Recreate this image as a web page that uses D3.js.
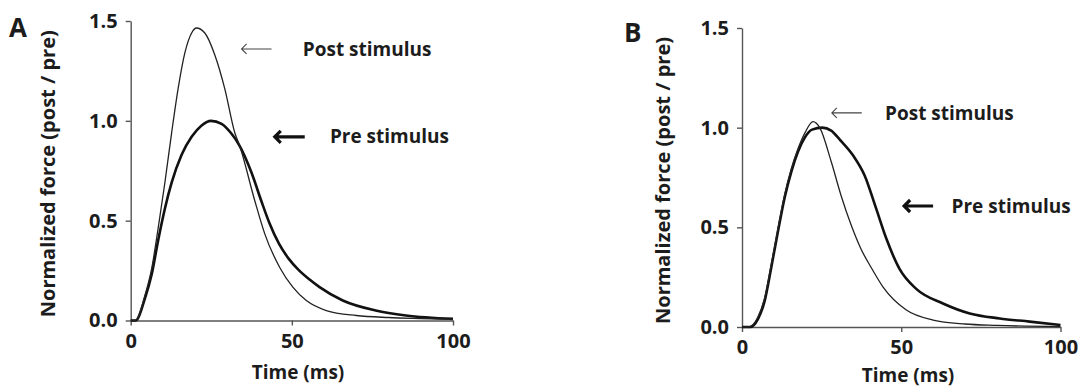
<!DOCTYPE html>
<html>
<head>
<meta charset="utf-8">
<script src="https://d3js.org/d3.v7.min.js"></script>
<style>
  body { margin: 0; background: #fff; }
  text { font-family: "Open Sans", sans-serif; fill: #1c1c1c; }
</style>
</head>
<body>
<div class="canvas"></div>
<script>
// values (time in ms, force normalized to pre)
var yTicks = [0, 0.5, 1.0, 1.5];
var xTicks = [0, 50, 100];

var postA_t = [0, 1.5, 4.4, 6.5, 8.5, 10.6, 12.7, 14.7, 16.8, 18.9, 20.4, 23, 26.1, 29.2, 32.3, 33.8, 38.5, 41.6, 46.2, 50.3, 54.5, 60.7, 70, 80, 90, 100];
var postA_v = [0, 0, 0.125, 0.26, 0.46, 0.69, 0.94, 1.16, 1.34, 1.44, 1.465, 1.44, 1.33, 1.16, 0.94, 0.875, 0.6, 0.434, 0.267, 0.167, 0.1, 0.05, 0.025, 0.015, 0.01, 0.006];

var preA_t = [0, 1.5, 4.4, 6.5, 8.5, 10.6, 12.7, 15.8, 18.9, 22, 24.9, 28.2, 31.3, 33.8, 37.5, 40.5, 43, 46, 49, 52, 55.5, 58.6, 65.8, 76, 85.4, 100];
var preA_v = [0, 0, 0.11, 0.23, 0.4, 0.56, 0.69, 0.83, 0.92, 0.977, 1.0, 0.985, 0.935, 0.875, 0.74, 0.6, 0.49, 0.385, 0.31, 0.255, 0.205, 0.167, 0.1, 0.05, 0.025, 0.008];

var postB_t = [0, 2, 5, 7.1, 9.2, 11.3, 13.4, 15.5, 17.6, 19.8, 22.3, 24.4, 28, 31.1, 34.3, 37.4, 40.5, 44.3, 51.6, 60, 70, 80, 100];
var postB_v = [0, 0, 0.05, 0.145, 0.315, 0.495, 0.665, 0.795, 0.895, 0.975, 1.03, 1.0, 0.83, 0.66, 0.51, 0.39, 0.3, 0.2, 0.085, 0.035, 0.015, 0.008, 0.002];

var preB_t = [0, 2.5, 5, 7.1, 9.2, 11.3, 13.4, 15.5, 17.6, 19.7, 22, 25.2, 28, 30.7, 34.9, 38.5, 42, 45.4, 49.5, 54.8, 63.1, 71.5, 80.9, 90.3, 100];
var preB_v = [0, 0, 0.04, 0.13, 0.3, 0.48, 0.65, 0.78, 0.88, 0.95, 0.99, 1.0, 0.985, 0.94, 0.86, 0.76, 0.6, 0.44, 0.29, 0.19, 0.118, 0.068, 0.043, 0.027, 0.01];

var seriesNames = ["Post stimulus", "Pre stimulus"];

// arrow + label anchors in data units: [t start, t end, value, t text]
var noteA = [[34.4, 43.7, 1.36, 53.4], [44.7, 54, 0.92, 61.8]];
var noteB = [[28.2, 37.6, 1.074, 44.9], [50.9, 60, 0.607, 65.8]];

var width = 1086, height = 389;

var svg = d3.select('.canvas').append('svg')
	.attr('width', width)
	.attr('height', height);

function zip(ts, vs) {
	return ts.map(function (t, i) { return [t, vs[i]]; });
}

function drawPanel(p) {
	var x = d3.scaleLinear().domain([0, 100]).range([p.x0, p.x1]);
	var y = d3.scaleLinear().domain([0, 1.5]).range([p.y0, p.y1]);
	var grp = svg.append('g');

	// axes
	var yAxis = d3.axisLeft(y).tickValues(yTicks).tickFormat(d3.format('.1f')).tickSize(5).tickSizeOuter(0).tickPadding(8);
	var xAxis = d3.axisBottom(x).tickValues(xTicks).tickFormat(d3.format('d')).tickSize(5).tickSizeOuter(0).tickPadding(8);

	var gy = grp.append('g').attr('transform', 'translate(' + p.x0 + ',0)').call(yAxis);
	var gx = grp.append('g').attr('transform', 'translate(0,' + p.y0 + ')').call(xAxis);

	[gx, gy].forEach(function (g) {
		g.selectAll('path, line').attr('stroke', '#555').attr('stroke-width', 1.4);
		g.selectAll('text')
			.style('font-family', '"Open Sans", sans-serif')
			.style('font-size', '20px')
			.style('font-weight', 700)
			.attr('fill', '#222');
	});

	// curves
	var line = d3.line()
		.x(function (d) { return x(d[0]); })
		.y(function (d) { return y(d[1]); })
		.curve(d3.curveMonotoneX);

	grp.append('path')
		.datum(zip(p.preT, p.preV))
		.attr('d', line)
		.attr('fill', 'none')
		.attr('stroke', '#111')
		.attr('stroke-width', 2.6);

	grp.append('path')
		.datum(zip(p.postT, p.postV))
		.attr('d', line)
		.attr('fill', 'none')
		.attr('stroke', '#222')
		.attr('stroke-width', 1.3);

	// axis titles
	grp.append('text')
		.attr('x', p.tx)
		.attr('y', p.y0 + p.tdy)
		.attr('text-anchor', 'middle')
		.style('font-size', '19px')
		.style('font-weight', 700)
		.text('Time (ms)');

	grp.append('text')
		.attr('transform', 'translate(' + (p.x0 - p.ydx) + ',' + ((p.y0 + p.y1) / 2 + 3) + ') rotate(-90)')
		.attr('text-anchor', 'middle')
		.style('font-size', '20px')
		.style('font-weight', 700)
		.text('Normalized force (post / pre)');

	// panel letter
	grp.append('text')
		.attr('x', p.lx)
		.attr('y', p.ly)
		.style('font-size', '26px')
		.style('font-weight', 700)
		.text(p.letter);

	// arrows with labels
	p.notes.forEach(function (n, i) {
		var ax = x(n[0]), bx = x(n[1]), ay = y(n[2]);
		var heavy = i === 1;
		var h = heavy ? 6 : 5;
		grp.append('path')
			.attr('d', 'M' + bx + ',' + ay + 'L' + ax + ',' + ay +
				'M' + (ax + h) + ',' + (ay - h) + 'L' + ax + ',' + ay + 'L' + (ax + h) + ',' + (ay + h))
			.attr('fill', 'none')
			.attr('stroke', heavy ? '#111' : '#444')
			.attr('stroke-width', heavy ? 3.2 : 1.1)
			.attr('stroke-linejoin', 'miter');
		grp.append('text')
			.attr('x', x(n[3]))
			.attr('y', ay)
			.attr('dy', '0.35em')
			.style('font-size', '19px')
			.style('font-weight', 700)
			.text(seriesNames[i]);
	});
}

drawPanel({
	letter: 'A', lx: 9, ly: 37,
	x0: 130.7, x1: 453, y0: 320.5, y1: 21,
	tx: 298, tdy: 58, ydx: 76,
	postT: postA_t, postV: postA_v, preT: preA_t, preV: preA_v,
	notes: noteA
});

drawPanel({
	letter: 'B', lx: 624, ly: 42,
	x0: 742, x1: 1060.5, y0: 327, y1: 28,
	tx: 908, tdy: 55, ydx: 72,
	postT: postB_t, postV: postB_v, preT: preB_t, preV: preB_v,
	notes: noteB
});
</script>
</body>
</html>
